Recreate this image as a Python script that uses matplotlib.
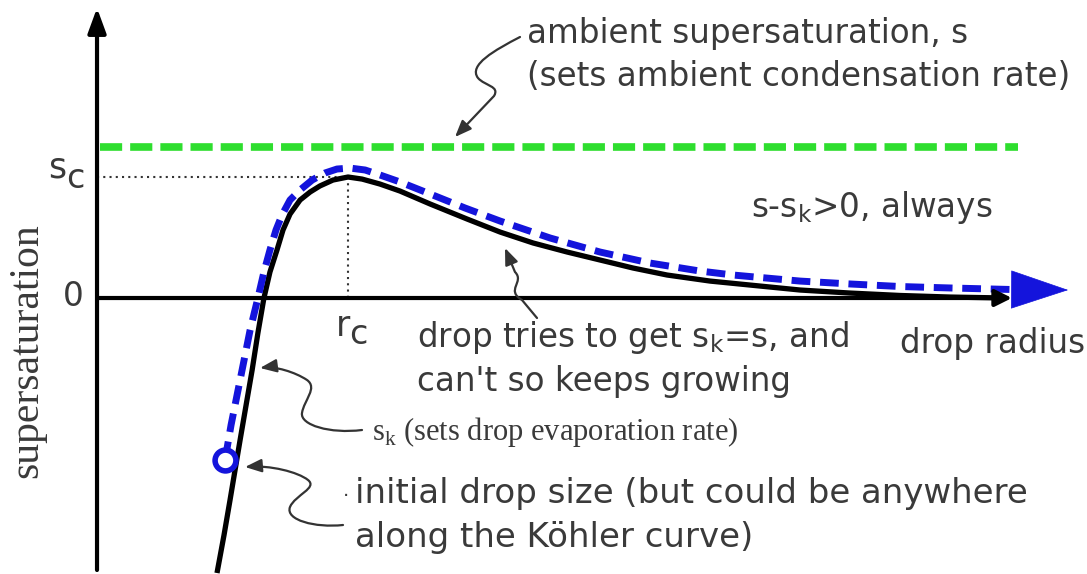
import matplotlib
matplotlib.use("Agg")
import matplotlib.pyplot as plt
import numpy as np
from matplotlib.path import Path
from matplotlib.patches import FancyArrowPatch
from matplotlib.transforms import Affine2D

# Köhler curve (black), radius in units of r_c, supersaturation in units of s_c
kohler_r = [0.478, 0.506, 0.530, 0.550, 0.570, 0.594, 0.618, 0.641, 0.665, 0.689,
            0.717, 0.741, 0.769, 0.809, 0.849, 0.888, 0.940, 1.0, 1.056, 1.127,
            1.207, 1.327, 1.474, 1.606, 1.737, 1.873, 2.004, 2.135, 2.271, 2.442,
            2.602, 2.801, 3.0, 3.199, 3.398, 3.618]
kohler_s = [-2.273, -1.959, -1.669, -1.421, -1.174, -0.884, -0.595, -0.289, 0.0, 0.215,
            0.397, 0.562, 0.694, 0.810, 0.876, 0.926, 0.975, 1.0, 0.983, 0.942,
            0.884, 0.777, 0.653, 0.545, 0.455, 0.380, 0.314, 0.248, 0.190, 0.140,
            0.107, 0.066, 0.041, 0.021, 0.008, 0.0]

# drop path (blue dashed)
drop_r = [0.510, 0.534, 0.562, 0.586, 0.610, 0.641, 0.665, 0.689, 0.713, 0.737,
          0.769, 0.809, 0.857, 0.908, 0.956, 1.008, 1.068, 1.127, 1.207, 1.327,
          1.466, 1.606, 1.805, 2.004, 2.203, 2.402, 2.534, 2.801, 3.0, 3.199,
          3.398, 3.649]
drop_s = [-1.339, -1.050, -0.760, -0.512, -0.264, 0.0, 0.215, 0.397, 0.562, 0.686,
          0.810, 0.893, 0.975, 1.033, 1.066, 1.074, 1.058, 1.017, 0.959, 0.860,
          0.744, 0.636, 0.496, 0.380, 0.289, 0.223, 0.190, 0.140, 0.116, 0.095,
          0.083, 0.070]
drop_tip = (3.869, 0.066)

s_ambient = 1.248
ambient_r = [0.012, 3.669]
r_c, s_c = 1.0, 1.0
start_r, start_s = 0.510, -1.339

W, H = 1087, 574
fig = plt.figure(figsize=(W / 100, H / 100), dpi=100)
ax = fig.add_axes([0, 0, 1, 1])
ax.set_xlim(-0.3865, 3.944)
ax.set_ylim(-2.281, 2.463)
ax.axis("off")

txt = "#3a3a3a"
blue = "#1414dc"

# axes with arrows
ax.annotate("", xy=(0, 2.397), xytext=(0, -2.248),
            arrowprops=dict(arrowstyle="-|>,head_length=0.6,head_width=0.22",
                            lw=3, color="k", mutation_scale=25, shrinkA=0, shrinkB=0))
ax.annotate("", xy=(3.645, 0), xytext=(0, 0),
            arrowprops=dict(arrowstyle="-|>,head_length=0.5,head_width=0.25",
                            lw=3, color="k", mutation_scale=20, shrinkA=0, shrinkB=0))

# dotted guides to the critical point
ax.plot([0, r_c], [s_c, s_c], ls=(0, (1, 2)), color="#333333", lw=1.5)
ax.plot([r_c, r_c], [s_c, 0], ls=(0, (1, 2)), color="#333333", lw=1.5)

# ambient supersaturation
ax.plot(ambient_r, [s_ambient, s_ambient], color="#2ede2e", lw=5.5, dashes=(2.9, 1.05))

# Köhler curve
ax.plot(kohler_r, kohler_s, color="k", lw=3.8, solid_capstyle="butt")

# drop path + arrowhead
ax.plot(drop_r, drop_s, color=blue, lw=5, dashes=(2.7, 1.4))
ax.annotate("", xy=drop_tip, xytext=(drop_r[-1], drop_s[-1]),
            arrowprops=dict(arrowstyle="-|>,head_length=2.0,head_width=0.67",
                            lw=0.5, color=blue, mutation_scale=20, shrinkA=0, shrinkB=0))
ax.plot([start_r], [start_s], "o", ms=15, mfc="white", mec=blue, mew=4)

# squiggly annotation arrows, drawn in image pixels
pix = Affine2D().scale(1, -1).translate(0, H)
M, C, L = Path.MOVETO, Path.CURVE4, Path.LINETO
squiggles = [
    ([(520, 37), (495, 50), (468, 65), (478, 78), (485, 86), (500, 86), (494, 96), (455, 137)],
     [M, C, C, C, C, C, C, L]),
    ([(537, 318), (522, 300), (505, 290), (525, 282), (515, 272), (505, 248)],
     [M, L, C, C, C, L]),
    ([(362, 430), (330, 434), (300, 425), (302, 413), (304, 400), (318, 388), (307, 380),
      (295, 372), (275, 366), (260, 368)],
     [M, C, C, C, C, C, C, C, C, C]),
    ([(343, 525), (315, 528), (285, 520), (290, 507), (295, 495), (318, 488), (308, 480),
      (298, 472), (270, 465), (245, 467)],
     [M, C, C, C, C, C, C, C, C, C]),
]
for verts, codes in squiggles:
    p = FancyArrowPatch(path=Path(verts, codes), arrowstyle="-|>,head_length=0.5,head_width=0.2",
                        mutation_scale=20, lw=1.6, color="#333333", transform=pix)
    fig.add_artist(p)


def put(px, py, s, **kw):
    kw.setdefault("color", txt)
    kw.setdefault("fontsize", 23.5)
    kw.setdefault("va", "center")
    kw.setdefault("ha", "left")
    fig.text(px / W, 1 - py / H, s, **kw)


sub = lambda c: r"$_\mathregular{%s}$" % c
put(527, 34, "ambient supersaturation, s")
put(527, 77, "(sets ambient condensation rate)")
put(993, 208, "s-s" + sub("k") + ">0, always", ha="right")
put(1085, 343, "drop radius", ha="right")
put(417, 338, "drop tries to get s" + sub("k") + "=s, and")
put(417, 382, "can't so keeps growing")
put(355, 494, "initial drop size (but could be anywhere", fontsize=24.5)
put(355, 537, "along the Köhler curve)", fontsize=24.5)
put(343, 497, "·", fontsize=14)
# critical radius / supersaturation labels
put(336, 326, "r", fontsize=25)
put(349, 335, "c", fontsize=24)
put(48, 168, "s", fontsize=25)
put(66, 178, "c", fontsize=24)
put(63, 297, "0", fontsize=23.5)
put(372, 432, "s" + sub("k") + " (sets drop evaporation rate)", family="Liberation Serif", fontsize=22)
put(27, 351, "supersaturation", family="Liberation Serif", fontsize=30, rotation=90, ha="center")

fig.savefig("out.png", dpi=100)
